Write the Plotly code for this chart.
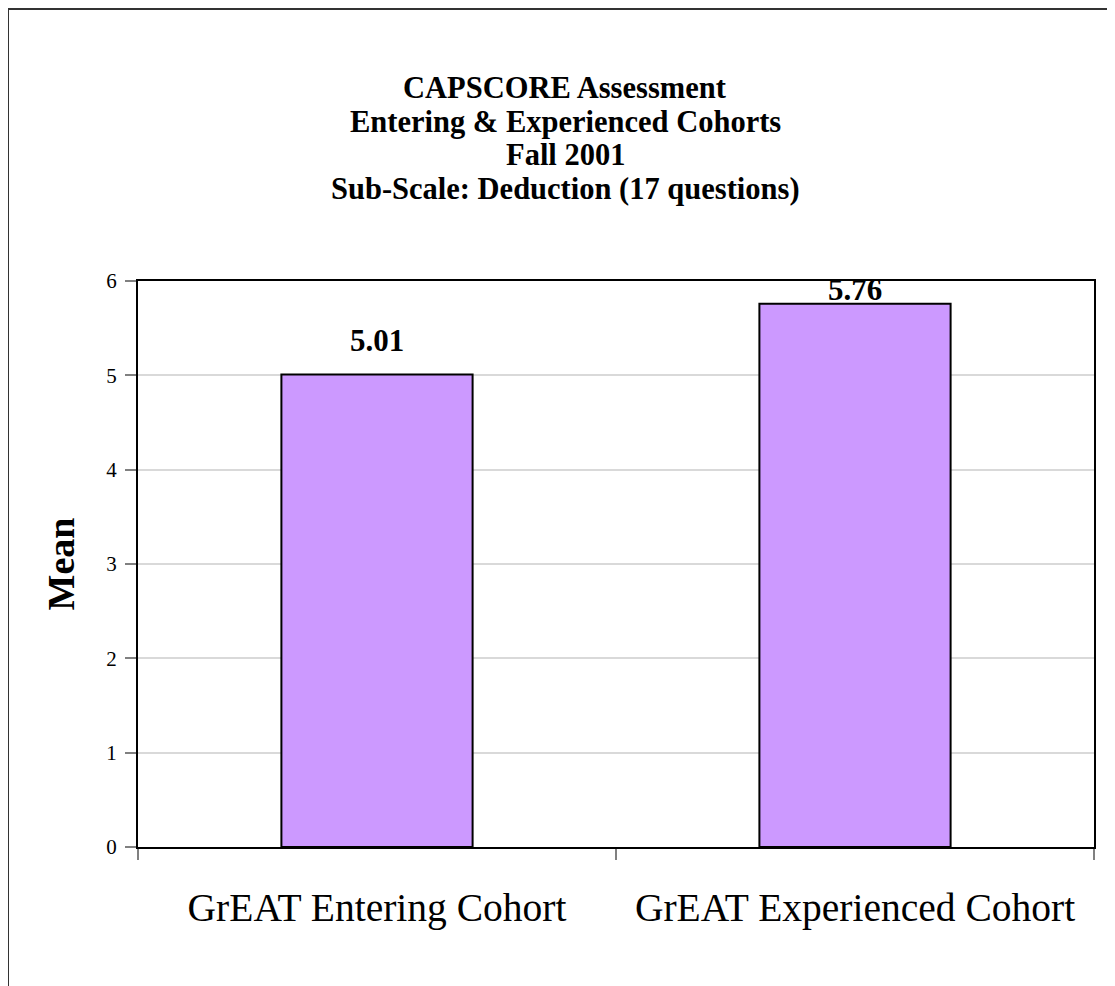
import plotly.graph_objects as go

categories = ["GrEAT Entering Cohort", "GrEAT Experienced Cohort"]
means = [5.01, 5.76]
mean_labels = ["5.01", "5.76"]
y_ticks = [0, 1, 2, 3, 4, 5, 6]
title_lines = [
    "CAPSCORE Assessment",
    "Entering & Experienced Cohorts",
    "Fall 2001",
    "Sub-Scale: Deduction (17 questions)",
]

# page has an 8px body margin, so the figure is drawn offset by 8px
OFF = 8
W, H = 1115 - OFF, 986 - OFF
L, T = 138 - OFF, 281 - OFF
R = W - (1094 - OFF)
B = H - (847 - OFF)
plot_h = H - T - B
plot_w = W - L - R

def py(ypix):
    # ypix in screenshot coordinates
    return 1 + (T - (ypix - OFF)) / plot_h

def px(xpix):
    return ((xpix - OFF) - L) / plot_w

SERIF = "Liberation Serif, Times New Roman, serif"

fig = go.Figure()
fig.add_trace(go.Bar(
    x=categories,
    y=means,
    marker=dict(color="#CC99FF", line=dict(color="black", width=2)),
    width=0.40,
    hoverinfo="x+y",
))

# data labels
label_shift = [34, 14]
for c, v, t, s in zip(categories, means, mean_labels, label_shift):
    fig.add_annotation(x=c, y=v, text="<b>%s</b>" % t, showarrow=False,
                       xref="x", yref="y", yanchor="middle", yshift=s,
                       font=dict(family=SERIF, size=31, color="black"))

# title lines
title_y = [88, 122, 155, 189]
for line, yp in zip(title_lines, title_y):
    fig.add_annotation(x=px(565), y=py(yp), xref="paper", yref="paper",
                       text="<b>%s</b>" % line, showarrow=False,
                       xanchor="center", yanchor="middle",
                       font=dict(family=SERIF, size=30.5, color="black"))

# outer chart border (left and top visible)
fig.add_shape(type="line", xref="paper", yref="paper",
              x0=px(8), x1=px(8), y0=py(9), y1=py(1000),
              line=dict(color="#333333", width=2))
fig.add_shape(type="line", xref="paper", yref="paper",
              x0=px(8), x1=px(1130), y0=py(9), y1=py(9),
              line=dict(color="#333333", width=2))

fig.update_layout(
    width=W, height=H,
    margin=dict(l=L, r=R, t=T, b=B, autoexpand=False),
    paper_bgcolor="white", plot_bgcolor="white",
    showlegend=False,
    font=dict(family=SERIF, color="black"),
    xaxis=dict(
        type="category",
        tickson="boundaries",
        ticks="outside", ticklen=11, tickcolor="#808080", tickwidth=2,
        showgrid=False,
        showline=True, linecolor="black", linewidth=2, mirror=True,
        tickfont=dict(family=SERIF, size=39.5, color="black"),
        ticklabelstandoff=25,
    ),
    yaxis=dict(
        range=[0, 6],
        tickvals=y_ticks,
        ticks="outside", ticklen=11, tickcolor="#808080", tickwidth=2,
        showgrid=True, gridcolor="#D9D9D9", gridwidth=1.5,
        showline=True, linecolor="black", linewidth=2, mirror=True,
        zeroline=False,
        tickfont=dict(family=SERIF, size=21, color="black"),
        ticklabelstandoff=4,
        title=dict(text="<b>Mean</b>", font=dict(family=SERIF, size=38, color="black"),
                   standoff=20),
    ),
)

fig.write_html("out.html")
